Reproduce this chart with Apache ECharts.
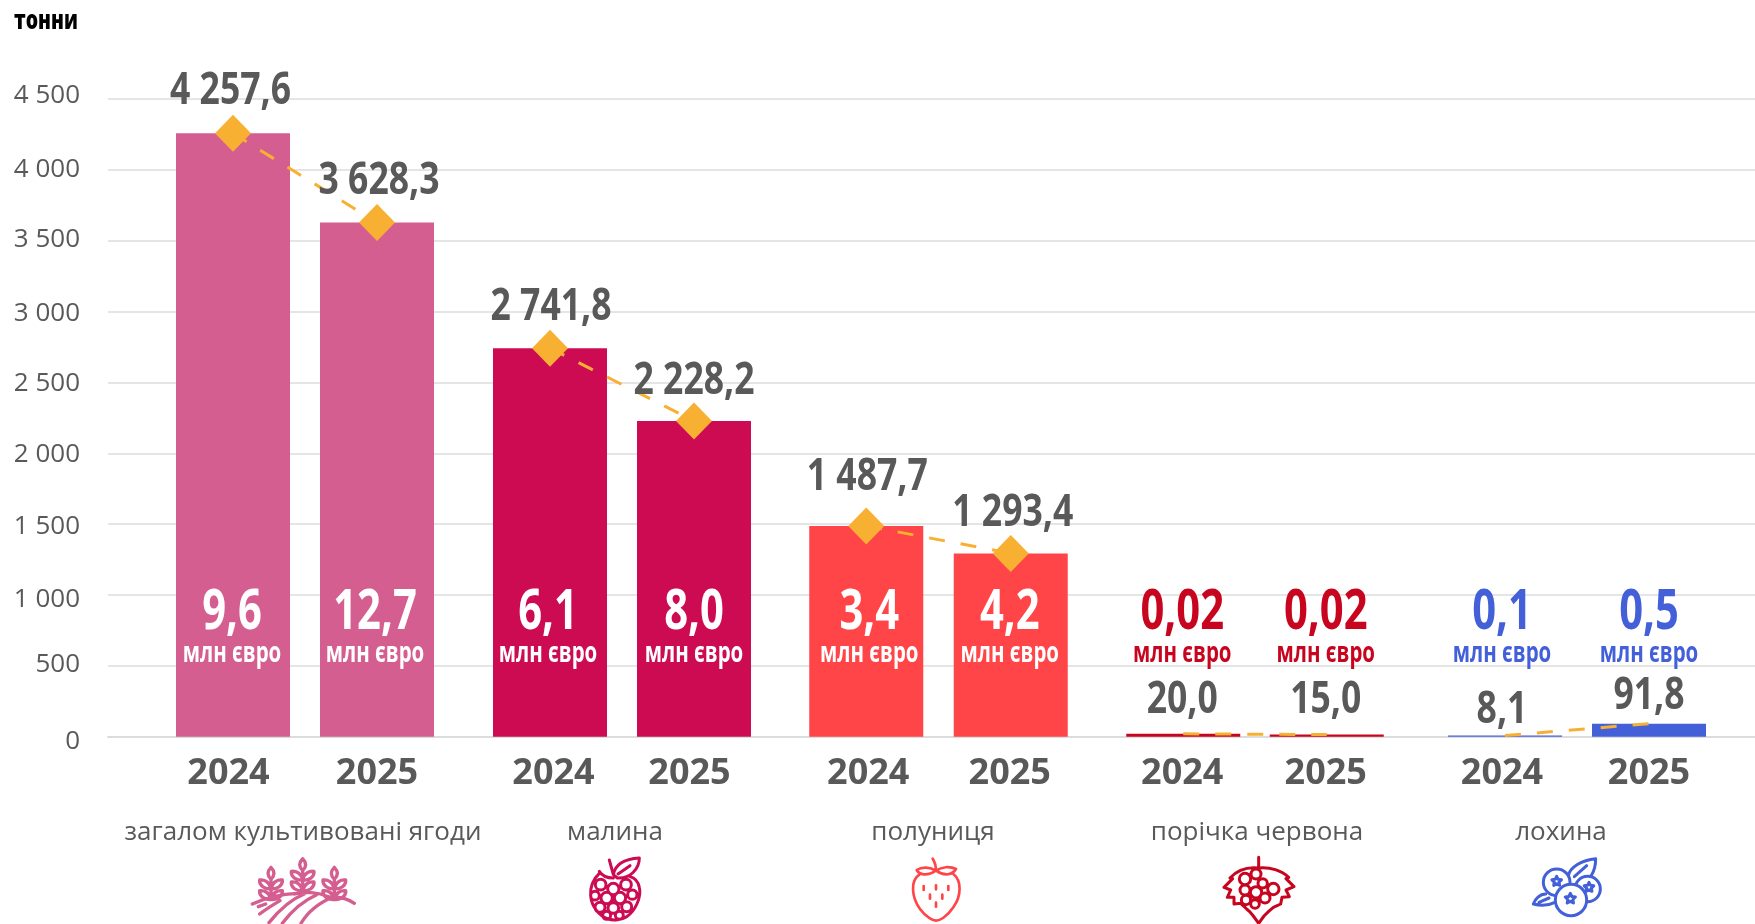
<!DOCTYPE html>
<html><head><meta charset="utf-8">
<style>html,body{margin:0;padding:0;background:#fff}#c{width:1755px;height:924px}</style>
<script src="https://cdn.jsdelivr.net/npm/echarts@6/dist/echarts.min.js"></script>
</head><body><div id="c"></div>
<script>
const unitTitle = 'тонни';
const years = ['2024', '2025'];
const groupNames = ['загалом культивовані ягоди', 'малина', 'полуниця', 'порічка червона', 'лохина'];
const yTicks = [0, 500, 1000, 1500, 2000, 2500, 3000, 3500, 4000, 4500];
const tonnesMixed = [4257.6, 3628.3];
const tonnesRaspberry = [2741.8, 2228.2];
const tonnesStrawberry = [1487.7, 1293.4];
const tonnesCurrant = [20.0, 15.0];
const tonnesBlueberry = [8.1, 91.8];
const euroMixed = [9.6, 12.7];
const euroRaspberry = [6.1, 8.0];
const euroStrawberry = [3.4, 4.2];
const euroCurrant = [0.02, 0.02];
const euroBlueberry = [0.1, 0.5];
const euroUnit = 'млн євро';

// ---- layout and style, kept apart from the data ----
const TOP = 99, BASE = 736.7;
const tonnes = [tonnesMixed, tonnesRaspberry, tonnesStrawberry, tonnesCurrant, tonnesBlueberry];
const euros = [euroMixed, euroRaspberry, euroStrawberry, euroCurrant, euroBlueberry];
const colors = ['#D55E90', '#CC0B53', '#FF4548', '#C8051F', '#4360D9'];
const euroColors = ['#fff', '#fff', '#fff', '#C8051F', '#4360D9'];
const gridLeft = [161, 478, 794, 1111.5, 1433];
const gridWidth = [288, 288, 289, 287, 288];
const hasDiamond = [true, true, true, false, false];
const labelGap = [[41.8, 41], [40.7, 40], [49, 40], [34, 34.5], [25.5, 27.7]];
const labelDx = [[-2.5, 2], [1, 0], [1, 2], [-1, -1], [-3, 0]];
const euroDx = [[-1, -2], [-2, 0], [3, -1], [-1, -1], [-3, 0]];
const yearPad = [[9, 0], [0, 9], [0, 2], [2, 2], [6, 0]];
const yearPadLeft = [[0, 0], [7, 0], [4, 0], [0, 0], [0, 0]];
const tickShift = {4500: -3.4, 4000: 0, 3500: -1, 3000: 2.2, 2500: 1, 2000: 1, 1500: 2, 1000: 4.5, 500: -1, 0: 4.5};
const nameX = [303, 615, 933, 1257, 1561];
const EURO_Y = 613, UNIT_Y = 654;
const BODY = '"Open Sans",sans-serif';
const GREY = '#595959', LINE = '#DCDCDC', GOLD = '#F7B032';

const fmt = v => {
  const s = (Math.abs(v) < 0.1 ? v.toFixed(2) : v.toFixed(1)).replace('.', ',');
  const [a, b] = s.split(',');
  return a.replace(/\B(?=(\d{3})+$)/g, ' ') + ',' + b;
};

const tickRich = {};
yTicks.forEach(t => {
  const d = tickShift[t];
  tickRich['t' + t] = {color: GREY, fontFamily: BODY, fontSize: 26,
    padding: d >= 0 ? [2 * d, 0, 0, 0] : [0, 0, -2 * d, 0]};
});

const grids = [{left: 108, width: 1647, top: TOP, height: BASE - TOP}];
const xAxes = [{gridIndex: 0, type: 'category', data: [''], axisTick: {show: false}, axisLabel: {show: false},
  axisLine: {show: true, lineStyle: {color: LINE, width: 2}}}];
const yAxes = [{gridIndex: 0, type: 'value', min: 0, max: 4500, interval: 500,
  axisLine: {show: false}, axisTick: {show: false},
  splitLine: {show: true, lineStyle: {color: LINE, width: 1.5}},
  axisLabel: {color: GREY, fontFamily: BODY, fontSize: 26, margin: 28, align: 'right', rich: tickRich,
    formatter: v => '{t' + v + '|' + String(v).replace(/\B(?=(\d{3})+$)/g, ' ') + '}'}}];
const series = [];

tonnes.forEach((vals, i) => {
  const g = i + 1;
  grids.push({left: gridLeft[i], width: gridWidth[i], top: TOP, height: BASE - TOP});
  xAxes.push({gridIndex: g, type: 'category', axisTick: {show: false}, axisLine: {show: false},
    data: years.map((y, k) => ({value: y, textStyle: {padding: [0, yearPad[i][k], 0, yearPadLeft[i][k]]}})),
    axisLabel: {color: GREY, fontFamily: BODY, fontWeight: 'bold', fontSize: 36, margin: 19}});
  yAxes.push({gridIndex: g, type: 'value', min: 0, max: 4500, interval: 500, show: false, splitLine: {show: false}});
  series.push({type: 'bar', xAxisIndex: g, yAxisIndex: g, barWidth: 114, z: 2,
    itemStyle: {color: colors[i]}, data: vals});
  series.push({type: 'line', xAxisIndex: g, yAxisIndex: g, z: 3, data: vals,
    symbol: hasDiamond[i] ? 'diamond' : 'none', symbolSize: [36, 37], showSymbol: hasDiamond[i],
    itemStyle: {color: GOLD},
    lineStyle: {color: GOLD, width: 3, type: [16, 16]}});
  series.push({type: 'custom', xAxisIndex: g, yAxisIndex: g, z: 5, silent: true, clip: false,
    encode: {x: 0, y: 1},
    data: vals.map((v, k) => [k, v, euros[i][k]]),
    renderItem: (params, api) => {
      const k = api.value(0), v = api.value(1);
      const p = api.coord([k, v]);
      const txt = (x, y, text, color, size, sx) => ({type: 'text', x, y, scaleX: sx,
        style: {text, fill: color, fontFamily: BODY, fontWeight: 'bold', fontSize: size, textAlign: 'center', textVerticalAlign: 'middle'}});
      return {type: 'group', children: [
        txt(p[0] + labelDx[i][k], p[1] - labelGap[i][k], fmt(v), GREY, 45, 0.79),
        txt(p[0] + euroDx[i][k], EURO_Y, fmt(api.value(2)), euroColors[i], 55, 0.76),
        txt(p[0] + euroDx[i][k], UNIT_Y, euroUnit, euroColors[i], 28, 0.73)
      ]};
    }});
});

// ---- icons: outlines in 3x local units, drawn at 1/3 scale ----
const wheat = (cx, top, end) => {
  const leaf = (y, d) => `M${cx} ${y}C${cx + d * 4} ${y - 20} ${cx + d * 20} ${y - 28} ${cx + d * 34} ${y - 26}C${cx + d * 36} ${y - 10} ${cx + d * 18} ${y + 3} ${cx} ${y}Z`;
  return `M${cx} ${top}C${cx - 12} ${top + 12} ${cx - 12} ${top + 24} ${cx} ${top + 36}C${cx + 12} ${top + 24} ${cx + 12} ${top + 12} ${cx} ${top}Z` +
    leaf(top + 64, -1) + leaf(top + 64, 1) + leaf(top + 96, -1) + leaf(top + 96, 1) + `M${cx} ${top + 36}V${end}`;
};
const circle = (x, y, r) => `M${x - r} ${y}a${r} ${r} 0 1 0 ${2 * r} 0a${r} ${r} 0 1 0 ${-2 * r} 0Z`;
const star = (x, y, r) => {
  let d = '';
  for (let i = 0; i < 10; i++) {
    const a = -Math.PI / 2 + i * Math.PI / 5, q = i % 2 ? r * 0.5 : r;
    d += (i ? 'L' : 'M') + (x + q * Math.cos(a)).toFixed(1) + ' ' + (y + q * Math.sin(a)).toFixed(1);
  }
  return d + 'Z';
};
const icons = [
  {x: 245, y: 854, color: colors[0], lw: 10, parts: [[
    wheat(78, 40, 122) + wheat(173, 14, 118) + wheat(268, 40, 127) +
    'M22 150C60 132 110 120 158 118M150 120C180 112 220 115 250 128M245 130C280 126 310 135 328 148' +
    'M72 206C105 165 140 135 178 120M112 208C140 170 175 140 215 122M168 208C190 170 225 145 265 128M44 180C60 168 80 155 105 140M40 158L62 150'
  ]]},
  {x: 580, y: 854, color: colors[1], lw: 9, parts: [[
    'M88 18L100 62M100 62C105 35 130 15 178 12C178 45 150 75 112 72L100 62ZM114 60L150 35M58 52C68 68 85 72 100 72' +
    'M60 56C40 75 30 100 32 125C34 155 55 185 85 195C100 200 125 198 140 188C165 172 185 130 178 100C175 85 165 72 150 68' +
    circle(100, 105, 17) + circle(62, 92, 16) + circle(138, 92, 16) + circle(45, 125, 13) + circle(80, 132, 17) + circle(120, 132, 17) + circle(157, 122, 14) +
    circle(60, 160, 15) + circle(100, 162, 16) + circle(140, 158, 15) + circle(80, 184, 12) + circle(118, 184, 12)
  ]]},
  {x: 900, y: 854, color: colors[2], lw: 8, parts: [[
    'M58 62C30 80 35 130 60 165C80 192 100 200 108 200C118 200 140 190 160 160C185 125 185 80 160 60' +
    'M108 50C90 38 65 38 50 48C58 62 80 68 108 50C135 68 158 62 168 45C150 36 125 38 108 50ZM108 50C108 38 105 25 98 14' +
    'M71 96V108M108 94V106M145 96V108M90 122V134M127 122V134M108 146V158'
  ]]},
  {x: 1220, y: 854, color: colors[3], lw: 9, parts: [[
    'M116 10V42M116 42C80 38 50 50 30 72L38 74L12 100L32 108L22 130L42 130L42 150L62 148L80 165L88 172L100 186L116 208L132 186L146 172L160 160L182 150L186 130L208 128L198 108L222 98L198 74L206 70C185 50 150 38 116 42Z' +
    circle(75, 75, 17) + circle(108, 60, 15) + circle(128, 88, 14) + circle(108, 115, 17) + circle(75, 108, 15) +
    circle(160, 105, 17) + circle(135, 132, 15) + circle(78, 138, 14) + circle(105, 150, 13)
  ]]},
  {x: 1525, y: 854, color: colors[4], lw: 9, parts: [
    ['M130 65C135 40 170 18 212 14C212 50 195 85 165 85M148 68L185 35M62 120C45 120 30 135 25 150C45 155 70 155 90 145M42 145L72 132'],
    [circle(95, 85, 40) + star(95, 82, 15), '#fff'],
    [circle(188, 105, 38) + star(192, 100, 15), '#fff'],
    [circle(138, 138, 47) + star(136, 134, 16), '#fff']
  ]}
];

series.push({type: 'custom', coordinateSystem: 'none', silent: true, z: 10, clip: false,
  data: icons.map((ic, i) => [i]),
  renderItem: (params, api) => {
    const ic = icons[api.value(0)];
    return {type: 'group', x: ic.x, y: ic.y, scaleX: 1 / 3, scaleY: 1 / 3,
      children: ic.parts.map(p => ({type: 'path', shape: {pathData: p[0]},
        style: {fill: p[1] || 'none', stroke: ic.color, lineWidth: ic.lw, lineJoin: 'round', lineCap: 'round'}}))};
  }});

const graphics = [{type: 'text', x: 14, y: 21, scaleX: 0.72, z: 10, style: {text: unitTitle, fill: '#000', textVerticalAlign: 'middle',
  font: '800 27px ' + BODY}}];
groupNames.forEach((n, i) => graphics.push({type: 'text', x: nameX[i], y: 833, z: 10,
  style: {text: n, fill: GREY, textAlign: 'center', textVerticalAlign: 'middle', font: '26px ' + BODY}}));

const chart = echarts.init(document.getElementById('c'), null, {renderer: 'canvas'});
chart.setOption({animation: false, backgroundColor: '#fff', grid: grids, xAxis: xAxes, yAxis: yAxes, series, graphic: graphics});
</script></body></html>
